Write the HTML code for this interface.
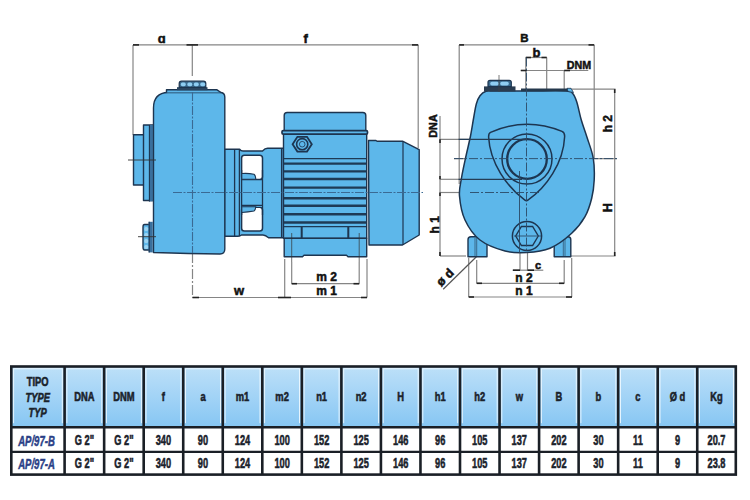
<!DOCTYPE html>
<html><head><meta charset="utf-8"><style>
html,body{margin:0;padding:0;background:#fff;width:750px;height:500px;overflow:hidden}
svg{display:block}
text{font-family:"Liberation Sans",sans-serif}
</style></head><body>
<svg width="750" height="500" viewBox="0 0 750 500">
<rect width="750" height="500" fill="#ffffff"/>
<g stroke="#858585" stroke-width="1.2" fill="none">
<path d="M133,44.9H418.2"/>
<path d="M133,44.9V135"/>
<path d="M418.2,44.9V148"/>
<path d="M192.3,44.9V76"/>
<path d="M192.5,253V297.5" stroke-dasharray="10,2,2,2"/>
<path d="M192.5,297.5H367"/>
<path d="M284.7,259V297.5"/>
<path d="M367,259V297.5"/>
<path d="M291.7,283.7H359.2"/>
<path d="M291.7,262V283.7"/>
<path d="M359.2,262V283.7"/>
</g>
<g stroke="#222" stroke-width="1.6">
<path d="M133,44.9H139"/>
<path d="M186.5,44.9H198"/>
<path d="M412,44.9H418.2"/>
<path d="M192.5,297.5H199"/>
<path d="M278,297.5H291"/>
<path d="M361,297.5H367"/>
<path d="M291.7,283.7H297"/>
<path d="M353.5,283.7H359.2"/>
</g>
<g stroke="#1d3550" stroke-width="1.4" fill="#5db7ea" stroke-linejoin="round">
<path d="M133.5,134.8H144V185H133.5Z"/>
<path d="M143.5,125H153V200.5H143.5Z"/>
<path d="M144.5,224.5H150V250H144.5Q143,250 143,247V227Q143,224.5 144.5,224.5Z"/>
<path d="M224.5,149.2H239.6Q241,151 243,151H262.5Q265,148.3 267.6,148.3H283.5V237.7H268.6Q265.5,235 263,235H241.5Q240,236.3 238,236.3H224.5Z"/>
<path d="M153.5,252.5V108Q153.5,93 168,92.5H220Q224.8,92.5 224.8,97V249Q224.8,254 220,254Q190,253.5 153.5,252.5Z"/>
<path d="M166.5,92.5V89.8H217L221,92.5"/>
</g>
<rect x="149" y="125" width="3.8" height="76.4" fill="#3a6f9c"/><rect x="148.6" y="221.8" width="4.2" height="30.6" fill="#3a6f9c"/><path d="M149.4,125V201.4M149.2,221.8V252.4" stroke="#1d3550" stroke-width="1.1"/>
<rect x="177" y="87.2" width="30.5" height="3" fill="#2a4560"/>
<path d="M179.2,87.3V83.5Q179.2,81.2 181.5,81.2H203.5Q205.8,81.2 205.8,83.5V87.3Z" fill="#3a6a8e" stroke="#1d3550" stroke-width="1.2"/>
<rect x="180.8" y="82.6" width="5" height="3.6" rx="1.6" fill="#8fcdf2"/>
<rect x="187.3" y="82.6" width="5" height="3.6" rx="1.6" fill="#8fcdf2"/>
<rect x="193.8" y="82.6" width="5" height="3.6" rx="1.6" fill="#8fcdf2"/>
<rect x="200.2" y="82.6" width="5" height="3.6" rx="1.6" fill="#8fcdf2"/>
<rect x="144.3" y="227" width="3.8" height="4" rx="1.5" fill="#9bd3f2"/>
<rect x="144.3" y="233" width="3.8" height="4" rx="1.5" fill="#9bd3f2"/>
<rect x="144.3" y="239" width="3.8" height="4" rx="1.5" fill="#9bd3f2"/>
<rect x="144.3" y="245" width="3.8" height="4" rx="1.5" fill="#9bd3f2"/>
<g stroke="#1d3550" stroke-width="1.3" fill="none">
<path d="M234.6,149.2V236.3M239.4,149.2V236.3M281.6,148.3V237.7"/>
</g>
<rect x="241.6" y="155.3" width="20.9" height="24.2" rx="2.8" fill="#fff" stroke="#1d3550" stroke-width="1.5"/>
<rect x="241.6" y="207.2" width="20.9" height="23.8" rx="2.8" fill="#fff" stroke="#1d3550" stroke-width="1.5"/>
<rect x="241.8" y="179.2" width="20.7" height="27.5" fill="#5db7ea"/>
<path d="M241.6,179.6H262.5M241.6,205.4H262.5M241.6,170V215M262.5,170V215" stroke="#1d3550" stroke-width="1.3"/>
<path d="M241.8,173.5Q248,173 254,174.2Q255.5,175 255.8,179.2H241.8Z" fill="#5db7ea" stroke="#1d3550" stroke-width="1.1"/>
<path d="M241.8,212.5Q248,212 254,211Q255.5,210 255.8,206.7H241.8Z" fill="#5db7ea" stroke="#1d3550" stroke-width="1.1"/>
<g stroke="#1d3550" stroke-width="1.4" fill="#5db7ea" stroke-linejoin="round">
<path d="M368.5,140.5H376L377,141.2H402.5L419.2,149.7V235L402.5,245H369Z"/>
<path d="M284.2,238.3H366.7V256.7H348L346.5,255.2H304L302.5,256.7H284.2Z"/>
<path d="M283.5,134.2H366.7V238.3H283.5Z"/>
<path d="M284.2,131V115.5Q284.2,112.5 287.2,112.5H362.8Q365.8,112.5 365.8,115.5V131Z"/>
<rect x="282" y="130.6" width="85.5" height="3.6" rx="1.2" stroke-width="1.7"/>
</g>
<path d="M403,141.2V245" stroke="#1d3550" stroke-width="1.2"/>
<path d="M284,158.6H366" stroke="#1e3a55" stroke-width="1.3"/>
<path d="M284,163.6H366" stroke="#1e3a55" stroke-width="2.4"/>
<path d="M284,171.4H366" stroke="#1e3a55" stroke-width="2.4"/>
<path d="M284,179.0H366" stroke="#1e3a55" stroke-width="2.4"/>
<path d="M284,187.6H366" stroke="#1e3a55" stroke-width="2.4"/>
<path d="M284,198.3H366" stroke="#1e3a55" stroke-width="2.4"/>
<path d="M284,205.8H366" stroke="#1e3a55" stroke-width="2.4"/>
<path d="M284,214.2H366" stroke="#1e3a55" stroke-width="2.4"/>
<path d="M284,222.5H366" stroke="#1e3a55" stroke-width="2.4"/>
<path d="M284,226.7H366" stroke="#1e3a55" stroke-width="1.3"/>
<path d="M301.7,227V238M348.3,227V238" stroke="#1d3550" stroke-width="2"/>
<path d="M284,238.3H366.7" stroke="#1d3550" stroke-width="1.3"/>
<path d="M311.8,144.2 L307.0,151.6 L297.4,151.6 L292.6,144.2 L297.4,136.8 L307.0,136.8Z" fill="#5db7ea" stroke="#1d3550" stroke-width="1.8"/>
<circle cx="302.2" cy="144.2" r="5.6" fill="none" stroke="#1d3550" stroke-width="1.6"/>
<circle cx="302.2" cy="144.2" r="2.8" fill="none" stroke="#1d3550" stroke-width="0.8"/>
<g stroke="#3a6a94" stroke-width="1.1" fill="none" stroke-dasharray="9,1.5,2,1.5">
<path d="M192.5,92V253"/>
<path d="M173,192.5H423"/>
</g>
<g stroke="#333" stroke-width="0.9" fill="none">
<path d="M128,160H156"/>
<path d="M138,236.7H156"/>
<path d="M291.7,233V262M359.2,233V262" stroke-width="0.7"/>
</g>
<g stroke="#858585" stroke-width="1.2" fill="none">
<path d="M459.2,44.9H594.2"/>
<path d="M459.2,44.9V184"/>
<path d="M594.2,44.9V158"/>
<path d="M525.8,57.5H546.7"/>
<path d="M525.8,57.5V90M546.7,57.5V90"/>
<path d="M520.8,70.5H588.3"/>
<path d="M564.2,70.5V89"/>
<path d="M570,89.2H615.5"/>
<path d="M614.7,89.2V256"/>
<path d="M570,256H615.5"/>
<path d="M440,116V256"/>
<path d="M440,139.3H490"/>
<path d="M440,179.3H470"/>
<path d="M440,192.5H470"/>
<path d="M440,256H466"/>
<path d="M454,158.6H617"/>
<path d="M468.7,258V297M571.7,258V297"/>
<path d="M468.7,297H572"/>
<path d="M476.7,260V283.3M564.2,260V283.3"/>
<path d="M476.7,283.3H564.2"/>
<path d="M520,253V270.5M527.5,253V270.5"/>
<path d="M512.5,270.2H543.3"/>
<path d="M476.4,256.8L443.2,289.2" stroke="#555"/>
</g>
<g stroke="#222" stroke-width="1.6">
<path d="M459.2,44.9H464"/>
<path d="M588.5,44.9H594.2"/>
<path d="M525.8,57.5H531"/>
<path d="M541.5,57.5H546.7"/>
<path d="M520.8,70.5H527"/>
<path d="M564.2,70.5H570"/>
<path d="M468.7,297H474"/>
<path d="M566,297H572"/>
<path d="M476.7,283.3H482"/>
<path d="M559,283.3H564.2"/>
<path d="M513,270.2H520"/>
<path d="M527.5,270.2H534"/>
<path d="M440,139.3V143"/>
<path d="M440,176V179.3"/>
<path d="M440,192.5V196"/>
<path d="M440,252V256"/>
<path d="M614.7,89.2V93"/>
<path d="M614.7,252V256"/>
</g>
<g stroke="#1d3550" stroke-width="1.4" fill="#5db7ea" stroke-linejoin="round">
<path d="M471,236.7H487V256.7H468V239.7Q468,236.7 471,236.7Z"/>
<path d="M554.2,236.7H568Q570.8,236.7 570.8,239.7V256.7H554.2Z"/>
</g>
<path d="M475,238V256M476.7,238V256M563.3,238V256M565,238V256" stroke="#2b4a66" stroke-width="0.7"/>
<path d="M495.0,91.0 C502.3,91.0 518.2,91.0 530.0,91.0 C541.8,91.0 558.9,90.6 566.0,91.0 C573.1,91.4 570.7,91.4 572.5,93.2 C574.3,95.0 575.2,97.2 576.7,101.7 C578.2,106.2 579.6,114.1 581.3,120.0 C583.0,125.9 584.9,130.6 586.9,137.0 C588.9,143.4 592.1,151.1 593.3,158.3 C594.5,165.5 594.5,173.3 594.2,180.0 C593.9,186.7 593.2,192.2 591.7,198.3 C590.2,204.4 588.3,210.9 585.0,216.7 C581.7,222.5 577.5,228.0 571.7,233.3 C565.9,238.6 557.5,245.1 550.0,248.3 C542.5,251.5 534.2,252.2 526.7,252.6 C519.2,253.0 512.8,253.1 505.0,251.0 C497.2,248.9 486.7,245.2 480.0,240.0 C473.3,234.8 468.4,227.3 465.0,220.0 C461.6,212.7 460.1,203.0 459.5,196.0 C458.9,189.0 460.4,184.7 461.5,178.0 C462.6,171.3 464.5,163.0 466.0,156.0 C467.5,149.0 469.2,142.5 470.5,136.0 C471.8,129.5 472.8,122.3 473.8,117.0 C474.8,111.7 475.3,107.5 476.3,104.0 C477.3,100.5 478.4,97.9 480.0,95.8 C481.6,93.7 483.5,92.1 486.0,91.3 C488.5,90.5 487.7,91.0 495.0,91.0Z" fill="#5db7ea" stroke="#1d3550" stroke-width="1.5"/>
<rect x="484" y="86.4" width="31.5" height="5" fill="#2a3c50"/>
<path d="M488,86.6V82.3Q488,80.3 490,80.3H509.3Q511.3,80.3 511.3,82.3V86.6Z" fill="#3a6a8e" stroke="#1d3550" stroke-width="1.2"/>
<rect x="490.2" y="81.8" width="8.6" height="3.8" rx="1.8" fill="#8fcdf2"/>
<rect x="500.2" y="81.8" width="8.6" height="3.8" rx="1.8" fill="#8fcdf2"/>
<path d="M521,89.8H568" stroke="#24384c" stroke-width="2.8"/>
<path d="M567,88.3H571L573.5,92.5L568,91.5Z" fill="#5db7ea" stroke="#1d3550" stroke-width="0.8"/>
<path d="M499,75V92" stroke="#444" stroke-width="0.7"/>
<path d="M490.5,132.4 Q526,116.6 562,131.4 Q565,132.8 564.6,137 C563.5,163 546,188 528.2,199.8 Q526.4,201.2 524.6,199.8 C507,187 490,163 488.6,137 Q488.6,133.2 490.5,132.4Z" fill="none" stroke="#1d3550" stroke-width="1.5"/>
<circle cx="527" cy="159" r="25" fill="none" stroke="#1d3550" stroke-width="1.5"/>
<circle cx="527" cy="159" r="19.8" fill="none" stroke="#1d3550" stroke-width="2.3"/>
<circle cx="527" cy="236" r="14.6" fill="none" stroke="#1d3550" stroke-width="1.5"/>
<path d="M538.3,236.0 L532.6,245.5 L521.4,245.5 L515.7,236.0 L521.4,226.5 L532.6,226.5Z" fill="none" stroke="#1d3550" stroke-width="1.4"/>
<g stroke="#2b4a66" stroke-width="0.9" fill="none">
<path d="M458.5,139.3H527M458.5,179.3H522" stroke-width="1.3" stroke="#243c55"/>
<path d="M526.5,57.5V253" stroke-dasharray="9,2,2,2"/>
<path d="M454,158.6H617" stroke-dasharray="9,2,2,2"/>
<path d="M470,192.5H540" stroke-dasharray="9,2,2,2"/>
<path d="M519.5,171V253"/>
<path d="M514,236H541"/>
</g>
<g font-family="Liberation Sans, sans-serif" font-weight="bold" fill="#111" stroke="#111" stroke-width="0.5">
<text transform="translate(161.8,42.6)" text-anchor="middle" font-size="13">&#593;</text>
<text transform="translate(305.7,43)" text-anchor="middle" font-size="13">f</text>
<text transform="translate(239,294.8)" text-anchor="middle" font-size="13">w</text>
<text transform="translate(326.5,281)" text-anchor="middle" font-size="12">m 2</text>
<text transform="translate(326.5,295.2)" text-anchor="middle" font-size="12">m 1</text>
<text transform="translate(524.4,42.2)" text-anchor="middle" font-size="11.5">B</text>
<text transform="translate(536.5,56.6)" text-anchor="middle" font-size="13">b</text>
<text transform="translate(579,68.6) scale(0.93,1)" text-anchor="middle" font-size="11.5">DNM</text>
<text transform="translate(437,126) rotate(-90) scale(0.98,1)" text-anchor="middle" font-size="11">DNA</text>
<text transform="translate(611.8,123.7) rotate(-90)" text-anchor="middle" font-size="12">h 2</text>
<text transform="translate(612.3,207.8) rotate(-90)" text-anchor="middle" font-size="12.5">H</text>
<text transform="translate(438.8,224.8) rotate(-90)" text-anchor="middle" font-size="12">h 1</text>
<text transform="translate(538,268.6)" text-anchor="middle" font-size="11">c</text>
<text transform="translate(524,282.4)" text-anchor="middle" font-size="12">n 2</text>
<text transform="translate(524,295)" text-anchor="middle" font-size="12">n 1</text>
<text transform="translate(448,280.3) rotate(-45)" text-anchor="middle" font-size="12.5">ø d</text>
</g>
<defs><linearGradient id="hg" x1="0" y1="0" x2="0" y2="1"><stop offset="0" stop-color="#bde0f8"/><stop offset="0.5" stop-color="#a2d3f6"/><stop offset="1" stop-color="#86c6f3"/></linearGradient></defs>
<rect x="11.3" y="366.5" width="724.5" height="60.69999999999999" fill="url(#hg)"/>
<path d="M13.6,423.2V368.8H62.3V423.2" fill="none" stroke="#eef8ff" stroke-width="1" stroke-opacity="0.9"/>
<path d="M66.9,423.2V368.8H101.8V423.2" fill="none" stroke="#eef8ff" stroke-width="1" stroke-opacity="0.9"/>
<path d="M106.4,423.2V368.8H141.4V423.2" fill="none" stroke="#eef8ff" stroke-width="1" stroke-opacity="0.9"/>
<path d="M146.0,423.2V368.8H180.9V423.2" fill="none" stroke="#eef8ff" stroke-width="1" stroke-opacity="0.9"/>
<path d="M185.5,423.2V368.8H220.5V423.2" fill="none" stroke="#eef8ff" stroke-width="1" stroke-opacity="0.9"/>
<path d="M225.1,423.2V368.8H260.0V423.2" fill="none" stroke="#eef8ff" stroke-width="1" stroke-opacity="0.9"/>
<path d="M264.6,423.2V368.8H299.5V423.2" fill="none" stroke="#eef8ff" stroke-width="1" stroke-opacity="0.9"/>
<path d="M304.1,423.2V368.8H339.1V423.2" fill="none" stroke="#eef8ff" stroke-width="1" stroke-opacity="0.9"/>
<path d="M343.7,423.2V368.8H378.6V423.2" fill="none" stroke="#eef8ff" stroke-width="1" stroke-opacity="0.9"/>
<path d="M383.2,423.2V368.8H418.2V423.2" fill="none" stroke="#eef8ff" stroke-width="1" stroke-opacity="0.9"/>
<path d="M422.8,423.2V368.8H457.7V423.2" fill="none" stroke="#eef8ff" stroke-width="1" stroke-opacity="0.9"/>
<path d="M462.3,423.2V368.8H497.2V423.2" fill="none" stroke="#eef8ff" stroke-width="1" stroke-opacity="0.9"/>
<path d="M501.8,423.2V368.8H536.8V423.2" fill="none" stroke="#eef8ff" stroke-width="1" stroke-opacity="0.9"/>
<path d="M541.4,423.2V368.8H576.3V423.2" fill="none" stroke="#eef8ff" stroke-width="1" stroke-opacity="0.9"/>
<path d="M580.9,423.2V368.8H615.9V423.2" fill="none" stroke="#eef8ff" stroke-width="1" stroke-opacity="0.9"/>
<path d="M620.5,423.2V368.8H655.4V423.2" fill="none" stroke="#eef8ff" stroke-width="1" stroke-opacity="0.9"/>
<path d="M660.0,423.2V368.8H694.9V423.2" fill="none" stroke="#eef8ff" stroke-width="1" stroke-opacity="0.9"/>
<path d="M699.5,423.2V368.8H733.5V423.2" fill="none" stroke="#eef8ff" stroke-width="1" stroke-opacity="0.9"/>
<rect x="11.3" y="427.2" width="724.5" height="47.400000000000034" fill="#fff"/>
<g stroke="#1a1f26" fill="none">
<rect x="11.3" y="366.5" width="724.5" height="108.10000000000002" stroke-width="2.6"/>
<path d="M64.6,366.5V474.6" stroke-width="2.6"/>
<path d="M104.13999999999999,366.5V474.6" stroke-width="2.6"/>
<path d="M143.68,366.5V474.6" stroke-width="2.6"/>
<path d="M183.22,366.5V474.6" stroke-width="2.6"/>
<path d="M222.76,366.5V474.6" stroke-width="2.6"/>
<path d="M262.29999999999995,366.5V474.6" stroke-width="2.6"/>
<path d="M301.84000000000003,366.5V474.6" stroke-width="2.6"/>
<path d="M341.38,366.5V474.6" stroke-width="2.6"/>
<path d="M380.91999999999996,366.5V474.6" stroke-width="2.6"/>
<path d="M420.46000000000004,366.5V474.6" stroke-width="2.6"/>
<path d="M460.0,366.5V474.6" stroke-width="2.6"/>
<path d="M499.53999999999996,366.5V474.6" stroke-width="2.6"/>
<path d="M539.08,366.5V474.6" stroke-width="2.6"/>
<path d="M578.62,366.5V474.6" stroke-width="2.6"/>
<path d="M618.16,366.5V474.6" stroke-width="2.6"/>
<path d="M657.7,366.5V474.6" stroke-width="2.6"/>
<path d="M697.24,366.5V474.6" stroke-width="2.6"/>
<path d="M11.3,427.2H735.8" stroke-width="2.6"/>
<path d="M11.3,451.8H735.8" stroke-width="2.2"/>
</g>
<g font-family="Liberation Sans, sans-serif" font-weight="bold" fill="#1a222b" stroke="#1a222b" stroke-width="0.55" text-anchor="middle" font-size="12">
<text transform="translate(37.7,386.2) scale(0.78,1)" >TIPO</text>
<text transform="translate(37.7,401.8) scale(0.78,1)" font-style="italic">TYPE</text>
<text transform="translate(37.7,417.4) scale(0.78,1)" font-style="italic">TYP</text>
<text transform="translate(84.4,401.2) scale(0.78,1)" >DNA</text>
<text transform="translate(123.9,401.2) scale(0.78,1)" >DNM</text>
<text transform="translate(163.4,401.2) scale(0.78,1)" >f</text>
<text transform="translate(203.0,401.2) scale(0.78,1)" >a</text>
<text transform="translate(242.5,401.2) scale(0.78,1)" >m1</text>
<text transform="translate(282.1,401.2) scale(0.78,1)" >m2</text>
<text transform="translate(321.6,401.2) scale(0.78,1)" >n1</text>
<text transform="translate(361.1,401.2) scale(0.78,1)" >n2</text>
<text transform="translate(400.7,401.2) scale(0.78,1)" >H</text>
<text transform="translate(440.2,401.2) scale(0.78,1)" >h1</text>
<text transform="translate(479.8,401.2) scale(0.78,1)" >h2</text>
<text transform="translate(519.3,401.2) scale(0.78,1)" >w</text>
<text transform="translate(558.9,401.2) scale(0.78,1)" >B</text>
<text transform="translate(598.4,401.2) scale(0.78,1)" >b</text>
<text transform="translate(637.9,401.2) scale(0.78,1)" >c</text>
<text transform="translate(677.5,401.2) scale(0.78,1)" >Ø d</text>
<text transform="translate(716.5,401.2) scale(0.78,1)" >Kg</text>
<text transform="translate(84.4,445.2) scale(0.65,1)" font-size="14.2">G 2&quot;</text>
<text transform="translate(84.4,468.2) scale(0.65,1)" font-size="14.2">G 2&quot;</text>
<text transform="translate(123.9,445.2) scale(0.65,1)" font-size="14.2">G 2&quot;</text>
<text transform="translate(123.9,468.2) scale(0.65,1)" font-size="14.2">G 2&quot;</text>
<text transform="translate(163.4,445.2) scale(0.65,1)" font-size="14.2">340</text>
<text transform="translate(163.4,468.2) scale(0.65,1)" font-size="14.2">340</text>
<text transform="translate(203.0,445.2) scale(0.65,1)" font-size="14.2">90</text>
<text transform="translate(203.0,468.2) scale(0.65,1)" font-size="14.2">90</text>
<text transform="translate(242.5,445.2) scale(0.65,1)" font-size="14.2">124</text>
<text transform="translate(242.5,468.2) scale(0.65,1)" font-size="14.2">124</text>
<text transform="translate(282.1,445.2) scale(0.65,1)" font-size="14.2">100</text>
<text transform="translate(282.1,468.2) scale(0.65,1)" font-size="14.2">100</text>
<text transform="translate(321.6,445.2) scale(0.65,1)" font-size="14.2">152</text>
<text transform="translate(321.6,468.2) scale(0.65,1)" font-size="14.2">152</text>
<text transform="translate(361.1,445.2) scale(0.65,1)" font-size="14.2">125</text>
<text transform="translate(361.1,468.2) scale(0.65,1)" font-size="14.2">125</text>
<text transform="translate(400.7,445.2) scale(0.65,1)" font-size="14.2">146</text>
<text transform="translate(400.7,468.2) scale(0.65,1)" font-size="14.2">146</text>
<text transform="translate(440.2,445.2) scale(0.65,1)" font-size="14.2">96</text>
<text transform="translate(440.2,468.2) scale(0.65,1)" font-size="14.2">96</text>
<text transform="translate(479.8,445.2) scale(0.65,1)" font-size="14.2">105</text>
<text transform="translate(479.8,468.2) scale(0.65,1)" font-size="14.2">105</text>
<text transform="translate(519.3,445.2) scale(0.65,1)" font-size="14.2">137</text>
<text transform="translate(519.3,468.2) scale(0.65,1)" font-size="14.2">137</text>
<text transform="translate(558.9,445.2) scale(0.65,1)" font-size="14.2">202</text>
<text transform="translate(558.9,468.2) scale(0.65,1)" font-size="14.2">202</text>
<text transform="translate(598.4,445.2) scale(0.65,1)" font-size="14.2">30</text>
<text transform="translate(598.4,468.2) scale(0.65,1)" font-size="14.2">30</text>
<text transform="translate(637.9,445.2) scale(0.65,1)" font-size="14.2">11</text>
<text transform="translate(637.9,468.2) scale(0.65,1)" font-size="14.2">11</text>
<text transform="translate(677.5,445.2) scale(0.65,1)" font-size="14.2">9</text>
<text transform="translate(677.5,468.2) scale(0.65,1)" font-size="14.2">9</text>
<text transform="translate(716.5,445.2) scale(0.65,1)" font-size="14.2">20.7</text>
<text transform="translate(716.5,468.2) scale(0.65,1)" font-size="14.2">23.8</text>
</g>
<g font-family="Liberation Sans, sans-serif" font-weight="bold" font-style="italic" fill="#2a3f86" stroke="#2a3f86" stroke-width="0.5" text-anchor="middle" font-size="13.5">
<text transform="translate(36.5,446.2) scale(0.66,1)" font-size="14.5">AP/97-B</text>
<text transform="translate(36.5,469.2) scale(0.66,1)" font-size="14.5">AP/97-A</text>
</g>
</svg></body></html>
